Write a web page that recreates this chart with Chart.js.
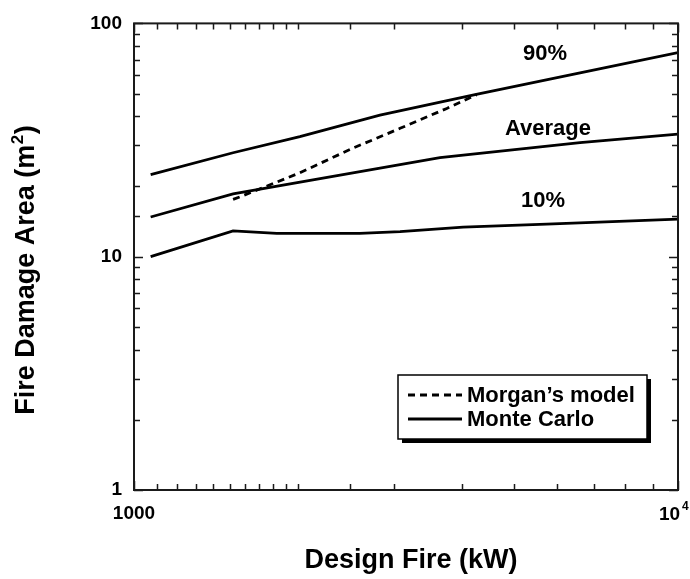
<!DOCTYPE html>
<html lang="en">
<head>
<meta charset="UTF-8">
<title>Fire Damage Area vs Design Fire</title>
<script src="https://cdn.jsdelivr.net/npm/chart.js"></script>
<style>
  body { margin: 0; background: #fff; }
  #wrap { width: 690px; height: 579px; }
</style>
</head>
<body>
<div id="wrap"><canvas id="myChart"></canvas></div>
<script>
// fire damage area (m2) against design fire (kW)
// Monte Carlo percentiles
const fire90 = [1073, 1521, 2018, 2832, 4236, 6606, 10000];
const area90 = [22.5, 27.9, 32.7, 40.4, 49.5, 61.3, 74.9];
const fireAvg = [1073, 1521, 3651, 6606, 10000];
const areaAvg = [14.8, 18.6, 26.6, 30.8, 33.5];
const fire10 = [1073, 1521, 1830, 2600, 3084, 4027, 5737, 10000];
const area10 = [10, 12.9, 12.6, 12.6, 12.8, 13.4, 13.8, 14.5];
// Morgan's model
const fireMorgan = [1521, 1585, 2018, 2527, 3084, 3758, 4266];
const areaMorgan = [17.6, 18.25, 22.9, 29.2, 35.5, 43.2, 49.5];

const curveNames = ['90%', 'Average', '10%'];
const legendNames = ['Morgan\u2019s model', 'Monte Carlo'];
const yTickLabels = [1, 10, 100];
const xTickLabels = [1000];

const FONT = "'Liberation Sans', Arial, Helvetica, sans-serif";

function toPts(xs, ys) {
    return xs.map((x, i) => ({ x: x, y: ys[i] }));
}
function isDecade(v) {
    const l = Math.log10(v);
    return Math.abs(l - Math.round(l)) < 1e-9;
}

// frame, inward ticks, curve names, legend box and axis titles
const decor = {
    id: 'decor',
    afterDraw(chart) {
        const ctx = chart.ctx, a = chart.chartArea;
        const xs = chart.scales.x, ys = chart.scales.y;
        ctx.save();

        ctx.strokeStyle = '#1a1a1a';
        ctx.lineWidth = 2;
        ctx.strokeRect(a.left, a.top, a.right - a.left, a.bottom - a.top);

        ctx.lineWidth = 1.5;
        ctx.beginPath();
        xs.ticks.forEach(t => {
            const px = Math.round(xs.getPixelForValue(t.value)) + 0.5;
            const len = isDecade(t.value) ? 9 : 6;
            ctx.moveTo(px, a.bottom); ctx.lineTo(px, a.bottom - len);
            ctx.moveTo(px, a.top); ctx.lineTo(px, a.top + len);
        });
        ys.ticks.forEach(t => {
            const py = Math.round(ys.getPixelForValue(t.value)) + 0.5;
            const len = isDecade(t.value) ? 9 : 6;
            ctx.moveTo(a.left, py); ctx.lineTo(a.left + len, py);
            ctx.moveTo(a.right, py); ctx.lineTo(a.right - len, py);
        });
        ctx.stroke();

        ctx.fillStyle = '#000';
        // 10^4 tick label
        const x4 = xs.getPixelForValue(10000);
        ctx.textAlign = 'left';
        ctx.textBaseline = 'alphabetic';
        ctx.font = 'bold 19px ' + FONT;
        ctx.fillText('10', x4 - 19, 519.5);
        ctx.font = 'bold 12px ' + FONT;
        ctx.fillText('4', x4 + 4, 510);

        // curve names
        const namePos = [[5694, 73.8], [5768, 35.3], [5647, 17.4]];
        ctx.font = 'bold 22px ' + FONT;
        ctx.textAlign = 'center';
        ctx.textBaseline = 'middle';
        curveNames.forEach((n, i) => {
            ctx.fillText(n, xs.getPixelForValue(namePos[i][0]), ys.getPixelForValue(namePos[i][1]));
        });

        // legend box with drop shadow
        const lx = a.right - 280, ly = a.bottom - 115, lw = 249, lh = 64;
        ctx.fillStyle = '#000';
        ctx.fillRect(lx + 4, ly + 4, lw, lh);
        ctx.fillStyle = '#fff';
        ctx.fillRect(lx, ly, lw, lh);
        ctx.lineWidth = 1.5;
        ctx.strokeStyle = '#000';
        ctx.strokeRect(lx, ly, lw, lh);

        const samples = [chart.data.datasets[3], chart.data.datasets[0]];
        const rowY = [ly + 20, ly + 44];
        samples.forEach((ds, i) => {
            ctx.save();
            ctx.lineWidth = ds.borderWidth;
            ctx.setLineDash(ds.borderDash || []);
            ctx.beginPath();
            ctx.moveTo(lx + 10, rowY[i]);
            ctx.lineTo(lx + 64, rowY[i]);
            ctx.stroke();
            ctx.restore();
        });
        ctx.fillStyle = '#000';
        ctx.font = 'bold 22px ' + FONT;
        ctx.textAlign = 'left';
        ctx.textBaseline = 'alphabetic';
        legendNames.forEach((n, i) => ctx.fillText(n, lx + 69, rowY[i] + 7));

        // x axis title
        ctx.font = 'bold 27px ' + FONT;
        ctx.textAlign = 'center';
        ctx.fillText('Design Fire (kW)', (a.left + a.right) / 2 + 5, 568);

        // y axis title, with superscript 2
        ctx.translate(34, 270);
        ctx.rotate(-Math.PI / 2);
        const main = 'Fire Damage Area (m';
        ctx.font = 'bold 27px ' + FONT;
        const w1 = ctx.measureText(main).width;
        const w3 = ctx.measureText(')').width;
        ctx.font = 'bold 17px ' + FONT;
        const w2 = ctx.measureText('2').width + 1;
        let u = -(w1 + w2 + w3) / 2;
        ctx.textAlign = 'left';
        ctx.font = 'bold 27px ' + FONT;
        ctx.fillText(main, u, 0);
        ctx.font = 'bold 17px ' + FONT;
        ctx.fillText('2', u + w1 + 0.5, -11);
        ctx.font = 'bold 27px ' + FONT;
        ctx.fillText(')', u + w1 + w2, 0);

        ctx.restore();
    }
};

const lineStyle = { borderColor: '#000', borderWidth: 2.8, pointRadius: 0, fill: false, tension: 0 };

const ctx = document.getElementById('myChart').getContext('2d');
const myChart = new Chart(ctx, {
    type: 'scatter',
    data: {
        datasets: [
            Object.assign({ label: curveNames[0], data: toPts(fire90, area90), showLine: true }, lineStyle),
            Object.assign({ label: curveNames[1], data: toPts(fireAvg, areaAvg), showLine: true }, lineStyle),
            Object.assign({ label: curveNames[2], data: toPts(fire10, area10), showLine: true }, lineStyle),
            Object.assign({ label: legendNames[0], data: toPts(fireMorgan, areaMorgan), showLine: true }, lineStyle, { borderDash: [7, 5] })
        ]
    },
    options: {
        responsive: true,
        maintainAspectRatio: false,
        animation: false,
        layout: { padding: { top: 17, right: 12, left: 0, bottom: 0 } },
        plugins: { legend: { display: false }, tooltip: { enabled: false } },
        scales: {
            x: {
                type: 'logarithmic',
                min: 1000,
                max: 10000,
                grid: { display: false, drawTicks: false },
                border: { display: false },
                ticks: {
                    autoSkip: false,
                    maxRotation: 0,
                    padding: 12,
                    color: '#000',
                    font: { family: FONT, size: 19, weight: 'bold' },
                    callback: v => xTickLabels.includes(v) ? String(v) : ''
                },
                afterFit: s => { s.height = 89; }
            },
            y: {
                type: 'logarithmic',
                min: 1,
                max: 100,
                grid: { display: false, drawTicks: false },
                border: { display: false },
                ticks: {
                    autoSkip: false,
                    padding: 12,
                    color: '#000',
                    font: { family: FONT, size: 19, weight: 'bold' },
                    callback: v => yTickLabels.includes(v) ? String(v) : ''
                },
                afterFit: s => { s.width = 134; }
            }
        }
    },
    plugins: [decor]
});
</script>
</body>
</html>
